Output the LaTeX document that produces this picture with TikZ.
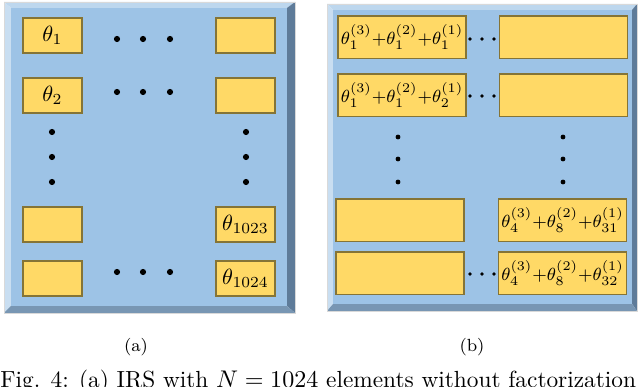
\documentclass[tikz,border=0pt]{standalone}
\usepackage{amsmath}
\definecolor{facecol}{HTML}{9DC3E6}
\definecolor{bevtopcol}{HTML}{BDD7EE}
\definecolor{bevleftcol}{HTML}{C9DEF1}
\definecolor{bevrightcol}{HTML}{5E7B99}
\definecolor{bevbotcol}{HTML}{7896B3}
\definecolor{elemfill}{HTML}{FFD966}
\definecolor{elemline}{HTML}{857436}
\begin{document}
\begin{tikzpicture}[x=0.4545pt, y=-0.4545pt,
  every node/.style={inner sep=0pt},
  elem/.style={rectangle, draw=elemline, fill=elemfill, line width=0.5pt, minimum width=26.8pt, minimum height=15.9pt},
  wide/.style={elem, minimum width=58.2pt, minimum height=19.5pt, font=\footnotesize},
  bigdot/.style={fill=black},
  panelline/.style={draw=white!85!black, line width=0.4pt}]
\useasboundingbox (0,0) rectangle (640,387);
\clip (0,0) rectangle (640,387);

% panel (a)
\fill[bevtopcol] (4,2) -- (295,2) -- (287,8) -- (11,8) -- cycle;
\fill[bevleftcol] (4,2) -- (11,8) -- (11,306) -- (4,313) -- cycle;
\fill[bevrightcol] (295,2) -- (295,313) -- (287,306) -- (287,8) -- cycle;
\fill[bevbotcol] (4,313) -- (295,313) -- (287,306) -- (11,306) -- cycle;
\fill[facecol] (11,8) rectangle (287,306);
\draw[panelline] (4,2) rectangle (295,313);

\node[elem] (a1) at (52.5,35.5) {$\theta_1$};
\node[elem] (a2) at (52.5,95.5) {$\theta_2$};
\node[elem] (a3) at (52.5,224.5) {};
\node[elem] (a4) at (52.5,278.5) {};
\node[elem] (a5) at (245.5,35.5) {};
\node[elem] (a6) at (245.5,95.5) {};
\node[elem] (a7) at (245.5,224.5) {$\theta_{1023}$};
\node[elem] (a8) at (245.5,278.5) {$\theta_{1024}$};

\foreach \y in {39,92,272}
  \foreach \x in {117,143,170}
    \fill[bigdot] (\x,\y) circle[radius=1.4pt];
\foreach \y in {132,157,182} {
  \fill[bigdot] (52,\y) circle[radius=1.4pt];
  \fill[bigdot] (246,\y) circle[radius=1.4pt];
}

% panel (b)
\fill[bevtopcol] (327,4) -- (637,4) -- (632,10) -- (333,10) -- cycle;
\fill[bevleftcol] (327,4) -- (333,10) -- (333,304) -- (327,311) -- cycle;
\fill[bevrightcol] (637,4) -- (637,311) -- (632,304) -- (632,10) -- cycle;
\fill[bevbotcol] (327,311) -- (637,311) -- (632,304) -- (333,304) -- cycle;
\fill[facecol] (333,10) rectangle (632,304);
\draw[panelline] (327,4) rectangle (637,311);

\node[wide] (b1) at (402,37.5) {$\theta_1^{(3)}{+}\theta_1^{(2)}{+}\theta_1^{(1)}$};
\node[wide] (b2) at (402,95.5) {$\theta_1^{(3)}{+}\theta_1^{(2)}{+}\theta_2^{(1)}$};
\node[wide] (b3) at (400,220.5) {};
\node[wide] (b4) at (400,273.5) {};
\node[wide] (b5) at (563.5,37.5) {};
\node[wide] (b6) at (563.5,95.5) {};
\node[wide] (b7) at (562.5,220.5) {$\theta_4^{(3)}{+}\theta_8^{(2)}{+}\theta_{31}^{(1)}$};
\node[wide] (b8) at (562.5,273.5) {$\theta_4^{(3)}{+}\theta_8^{(2)}{+}\theta_{32}^{(1)}$};

\foreach \y in {39,96,274}
  \foreach \x in {470,482,494}
    \fill[bigdot] (\x,\y) circle[radius=0.9pt];
\foreach \y in {137,159,182} {
  \fill[bigdot] (398,\y) circle[radius=1.1pt];
  \fill[bigdot] (563,\y) circle[radius=1.1pt];
}

% labels
\node[font=\footnotesize] (la) at (136,347) {(a)};
\node[font=\footnotesize] (lb) at (472,347) {(b)};
\node[anchor=base west, font=\fontsize{10.6pt}{13pt}\selectfont] (cap) at (0,388) {Fig. 4: (a) IRS with $N=1024$ elements without factorization};
\end{tikzpicture}
\end{document}
